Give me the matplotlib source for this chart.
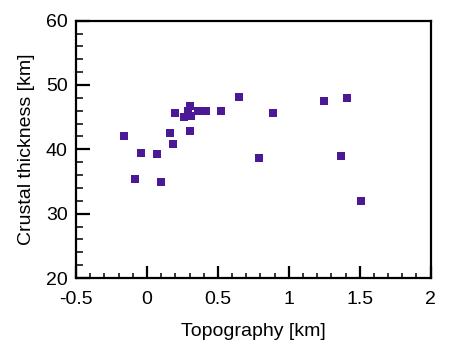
import matplotlib
matplotlib.use('Agg')
import matplotlib.pyplot as plt
from matplotlib.ticker import MultipleLocator

plt.rcParams['font.family'] = ['Liberation Sans', 'DejaVu Sans']

# Datos
topography = [-0.160, -0.086, -0.040, 0.071, 0.101, 0.160, 0.181, 0.200,
              0.259, 0.301, 0.287, 0.313, 0.301, 0.360, 0.418, 0.520,
              0.651, 0.790, 0.890, 1.250, 1.410, 1.370, 1.511]
crustal_thickness = [42.1, 35.4, 39.4, 39.3, 34.9, 42.5, 40.9, 45.6,
                     45.0, 46.8, 46.0, 45.2, 42.9, 45.9, 46.0, 45.9,
                     48.1, 38.7, 45.7, 47.5, 48.0, 38.9, 32.0]

fig = plt.figure(figsize=(4.5, 3.56), dpi=100)
ax = fig.add_axes([0.169, 0.219, 0.788, 0.723])

ax.plot(topography, crustal_thickness, 's', color='#4b1896',
        markersize=6, markeredgewidth=0)

ax.set_xlim(-0.5, 2)
ax.set_ylim(20, 60)
ax.xaxis.set_major_locator(MultipleLocator(0.5))
ax.xaxis.set_minor_locator(MultipleLocator(0.1))
ax.yaxis.set_major_locator(MultipleLocator(10))
ax.yaxis.set_minor_locator(MultipleLocator(2))
ax.set_xticks([-0.5, 0, 0.5, 1, 1.5, 2])
ax.set_xticklabels(['-0.5', '0', '0.5', '1', '1.5', '2'])

for s in ax.spines.values():
    s.set_linewidth(1.6)

ax.tick_params(axis='x', which='major', direction='in', length=9, width=1.6,
               labelsize=14, pad=9)
ax.tick_params(axis='x', which='minor', direction='in', length=3.5, width=1.1)
ax.tick_params(axis='y', which='major', direction='in', length=10, width=1.6,
               labelsize=14, pad=6)
ax.tick_params(axis='y', which='minor', direction='in', length=5, width=1.1)

ax.set_xlabel('Topography [km]', fontsize=14, labelpad=11)
ax.set_ylabel('Crustal thickness [km]', fontsize=14, labelpad=8)

fig.savefig('out.png', dpi=100)
